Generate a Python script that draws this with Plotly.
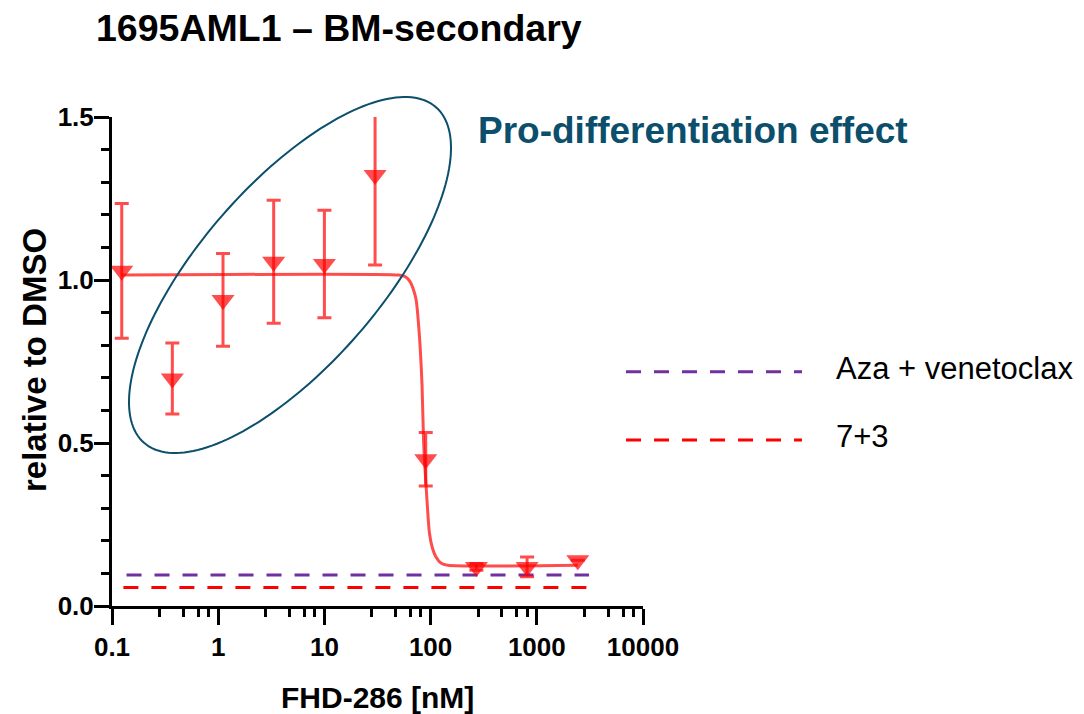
import numpy as np
import plotly.graph_objects as go

# ---------------- data ----------------
conc_nM = [0.1235, 0.37, 1.11, 3.33, 10, 30, 90, 270, 810, 2430]
rel_dmso = [1.028, 0.698, 0.939, 1.056, 1.049, 1.322, 0.45, 0.12, 0.12, 0.14]
rel_sd = [0.207, 0.109, 0.142, 0.189, 0.165, 0.276, 0.082, 0.01, 0.03, 0.0]

fit_x = [0.1235, 50, 58, 64, 69, 73, 78, 83, 86, 91, 97.5, 104, 112, 125, 145, 2430]
fit_y = [1.015, 1.015, 1.01, 0.995, 0.97, 0.94, 0.84, 0.68, 0.5, 0.36, 0.224, 0.178, 0.151, 0.132, 0.125, 0.125]

aza_ven_x = [0.137, 3100]
aza_ven_y = [0.095, 0.095]
seven3_x = [0.128, 2950]
seven3_y = [0.057, 0.057]

x_tickvals = [0.1, 1, 10, 100, 1000, 10000]
x_ticktext = ["0.1", "1", "10", "100", "1000", "10000"]
y_tickvals = [0.0, 0.5, 1.0, 1.5]
y_ticktext = ["0.0", "0.5", "1.0", "1.5"]

# ---------------- style ----------------
W, H = 1084, 714
L, R, T, B = 112, 441, 117, 108
PW, PH = W - L - R, H - T - B
RED_T = "rgba(255,0,0,0.70)"
TEAL = "#0b4f6c"
PURPLE = "#7030a0"
FONT = "Liberation Sans, Arial, sans-serif"

def px2paper(px, py):
    return (px - L) / PW, (H - B - py) / PH

fig = go.Figure()

fig.add_trace(go.Scatter(
    x=aza_ven_x, y=aza_ven_y, mode="lines",
    line=dict(color=PURPLE, width=3, dash="15px,13px"), showlegend=False))
fig.add_trace(go.Scatter(
    x=seven3_x, y=seven3_y, mode="lines",
    line=dict(color="#ff0000", width=3, dash="15px,13px"), showlegend=False))

fig.add_trace(go.Scatter(
    x=fit_x, y=fit_y, mode="lines",
    line=dict(color=RED_T, width=3, shape="spline", smoothing=0.6),
    showlegend=False))

fig.add_trace(go.Scatter(
    x=conc_nM, y=rel_dmso, mode="markers",
    marker=dict(symbol="triangle-down", size=20, color=RED_T, line=dict(width=0)),
    error_y=dict(type="data", array=rel_sd, visible=True, color=RED_T,
                 thickness=3, width=7),
    showlegend=False))

# ellipse (annotation highlight) in pixel geometry -> paper coords
cx, cy, a, b, th = 290, 275, 222.4, 90.2, np.deg2rad(49)
t = np.linspace(0, 2 * np.pi, 181)
ex = cx + a * np.cos(t) * np.cos(th) - b * np.sin(t) * np.sin(th)
ey = cy - (a * np.cos(t) * np.sin(th) + b * np.sin(t) * np.cos(th))
pts = [px2paper(x, y) for x, y in zip(ex, ey)]
path = "M " + " L ".join(f"{p[0]:.5f},{p[1]:.5f}" for p in pts) + " Z"

shapes = [dict(type="path", path=path, xref="paper", yref="paper",
               line=dict(color=TEAL, width=2))]

# custom legend
leg = [(371.7, PURPLE, "Aza + venetoclax"), (440, "#ff0000", "7+3")]
annotations = []
for ly, col, txt in leg:
    x0, y0 = px2paper(626, ly)
    x1, _ = px2paper(802, ly)
    shapes.append(dict(type="line", xref="paper", yref="paper", x0=x0, x1=x1,
                       y0=y0, y1=y0, line=dict(color=col, width=3, dash="15px,13px")))
    tx, ty = px2paper(834, ly - 3)
    annotations.append(dict(text=txt, xref="paper", yref="paper", x=tx, y=ty,
                            xanchor="left", yanchor="middle", showarrow=False,
                            font=dict(family=FONT, size=31, color="black")))

ax, ay = px2paper(476, 130)
annotations.append(dict(text="<b>Pro-differentiation effect</b>", xref="paper", yref="paper",
                        x=ax, y=ay, xanchor="left", yanchor="middle", showarrow=False,
                        font=dict(family=FONT, size=37, color=TEAL)))

# axis titles
xt_x, xt_y = px2paper(377, 697)
annotations.append(dict(text="<b>FHD-286 [nM]</b>", xref="paper", yref="paper",
                        x=xt_x, y=xt_y, xanchor="center", yanchor="middle",
                        showarrow=False, font=dict(family=FONT, size=30, color="black")))
yt_x, yt_y = px2paper(34, 360)
annotations.append(dict(text="<b>relative to DMSO</b>", xref="paper", yref="paper",
                        x=yt_x, y=yt_y, xanchor="center", yanchor="middle", textangle=-90,
                        showarrow=False, font=dict(family=FONT, size=33, color="black")))

minor_x = []
for d in [0.1, 1, 10, 100, 1000]:
    for m in [2.8, 4.7, 6.5, 8.1]:
        minor_x.append(d * m)

fig.update_layout(
    width=W, height=H,
    margin=dict(l=L, r=R, t=T, b=B, pad=0, autoexpand=False),
    paper_bgcolor="white", plot_bgcolor="white",
    font=dict(family=FONT, color="black"),
    title=dict(text="<b>1695AML1 – BM-secondary</b>", x=96 / W, xanchor="left",
               y=1 - 28 / H, yanchor="middle", xref="container", yref="container",
               font=dict(family=FONT, size=37.5, color="black")),
    shapes=shapes, annotations=annotations,
    xaxis=dict(type="log", range=[-1, 4], showgrid=False, zeroline=False,
               automargin=False,
               showline=True, linecolor="black", linewidth=3,
               ticks="outside", ticklen=16, tickwidth=3, tickcolor="black",
               tickmode="array", tickvals=x_tickvals, ticktext=x_ticktext,
               tickfont=dict(family=FONT, size=26, weight=700),
               ticklabelstandoff=0,
               minor=dict(tickmode="array", tickvals=minor_x, ticks="outside",
                          ticklen=8, tickwidth=3, tickcolor="black", showgrid=False)),
    yaxis=dict(range=[0, 1.5], showgrid=False, zeroline=False,
               automargin=False,
               showline=True, linecolor="black", linewidth=3,
               ticks="outside", ticklen=15, tickwidth=3, tickcolor="black",
               tickmode="array", tickvals=y_tickvals, ticktext=y_ticktext,
               tickfont=dict(family=FONT, size=26, weight=700),
               ticklabelstandoff=-5,
               minor=dict(dtick=0.1, tick0=0, ticks="outside",
                          ticklen=8, tickwidth=3, tickcolor="black", showgrid=False)),
)

fig.write_html("out.html", config={"displayModeBar": False},
               post_script="document.body.style.margin='0px';")
